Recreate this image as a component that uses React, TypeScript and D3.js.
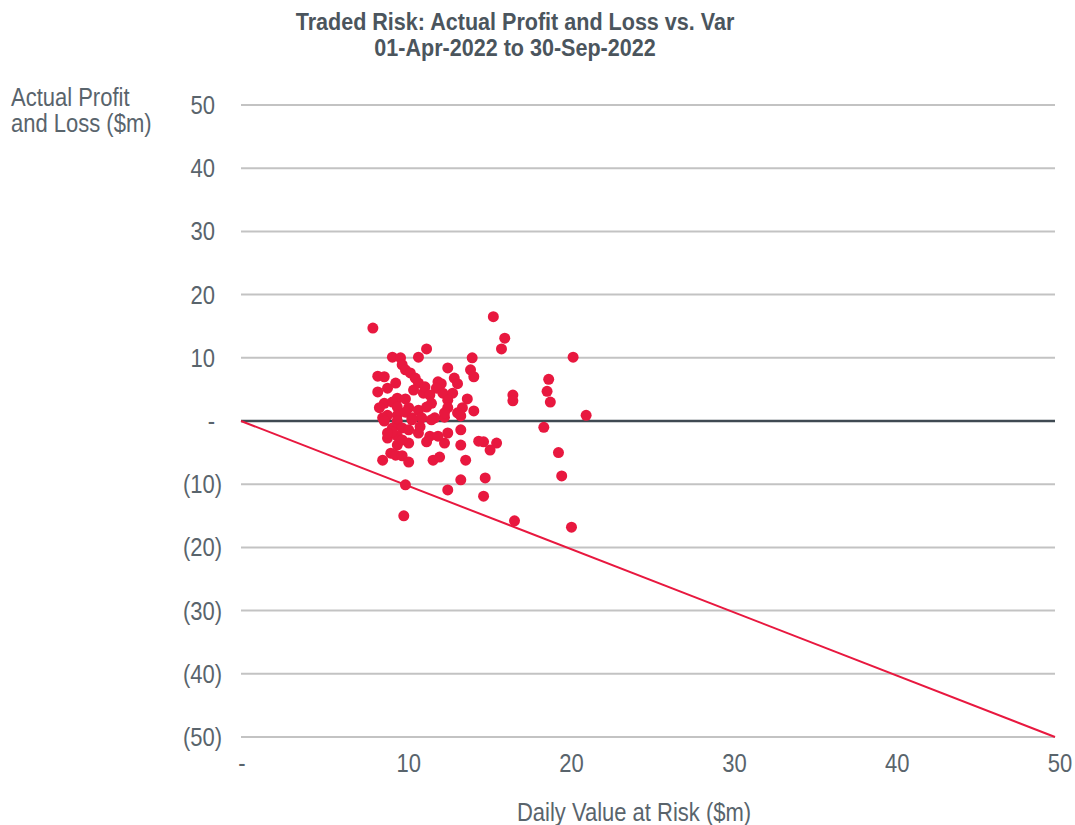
import React from "react";
import * as d3 from "d3";

const titleLines = ["Traded Risk: Actual Profit and Loss vs. Var", "01-Apr-2022 to 30-Sep-2022"];
const yAxisTitle = ["Actual Profit", "and Loss ($m)"];
const xAxisTitle = "Daily Value at Risk ($m)";
const yTicks = [50, 40, 30, 20, 10, 0, -10, -20, -30, -40, -50];
const xTicks = [0, 10, 20, 30, 40, 50];

// Daily VaR ($m)
const varValues = [
  8.1, 15.5, 16.2, 16.0, 20.4, 18.9, 18.8, 19.0, 16.7, 16.7,
  21.2, 18.6, 19.5, 19.7, 20.3, 16.8, 14.9, 15.7, 15.3, 15.0,
  14.9, 11.4, 10.9, 9.3, 9.8, 14.2, 12.7, 14.1, 14.3, 9.9,
  10.1, 10.4, 10.7, 10.9, 8.4, 8.8, 13.1, 13.3, 12.1, 12.3,
  12.0, 9.5, 9.0, 8.4, 10.6, 11.2, 11.3, 11.6, 12.4, 13.0,
  13.9, 9.6, 10.1, 8.8, 9.3, 11.7, 12.7, 8.5, 9.6, 10.3,
  10.9, 11.4, 12.7, 13.6, 14.3, 9.0, 9.6, 10.1, 13.3, 8.7,
  10.5, 11.1, 11.9, 12.5, 13.5, 8.8, 9.6, 10.5, 9.3, 9.9,
  10.3, 10.9, 11.0, 11.6, 9.6, 9.0, 10.3, 9.6, 9.2, 9.5,
  9.9, 8.7, 10.3, 11.8, 12.2, 12.1, 12.7, 12.5, 13.5, 13.5,
  14.6, 13.8, 13.5, 12.7, 10.1, 10.0, 11.7, 12.5, 11.4, 9.3,
  9.0, 9.9,
];

// Actual profit and loss ($m)
const pnlValues = [
  14.7, 16.5, 13.1, 11.4, 10.1, 6.6, 4.7, 3.0, 4.1, 3.2,
  0.9, -1.0, -5.0, -8.7, -16.8, -15.8, -3.3, -3.5, -4.6, -9.0,
  -11.9, 11.4, 10.1, 10.1, 10.0, 10.0, 8.4, 8.1, 7.0, 8.9,
  8.1, 7.6, 6.8, 6.0, 7.1, 7.0, 6.8, 5.9, 6.2, 5.9,
  5.2, 6.0, 5.2, 4.6, 4.9, 4.4, 5.4, 4.1, 4.4, 4.4,
  3.5, 3.6, 3.5, 2.8, 3.0, 2.8, 3.3, 2.1, 2.2, 2.1,
  1.7, 2.2, 2.1, 2.1, 1.6, 0.9, 0.9, 1.4, 1.3, 0.5,
  0.5, 0.5, 0.5, 0.6, 0.8, 0.0, 0.0, 0.2, -1.1, -1.1,
  -1.4, -1.9, -0.9, -2.4, -2.4, -2.7, -3.5, -3.8, -5.1, -5.4,
  -5.5, -6.2, -6.5, -6.2, -5.7, -2.4, -1.9, -3.5, -1.4, -3.8,
  -3.2, -6.2, -9.3, -10.9, -10.1, -15.0, 0.2, 1.3, -3.3, -1.7,
  -1.9, -3.0,
];

const refLine = [0, 50];

const RED = "#E8183F";
const GRID = "#C3C3C3";
const ZERO = "#3F4A52";
const TEXT = "#59646C";
const FONT = "'Liberation Sans', Arial, sans-serif";
const SQUEEZE = 0.88;

type NTextProps = {
  x: number;
  y: number;
  size: number;
  anchor?: "start" | "middle" | "end";
  weight?: string;
  fill?: string;
  children: React.ReactNode;
};

function NText({ x, y, size, anchor = "start", weight = "normal", fill = TEXT, children }: NTextProps) {
  return (
    <g transform={`translate(${x},${y}) scale(${SQUEEZE},1)`}>
      <text x={0} y={0} fontSize={size} textAnchor={anchor} fontWeight={weight} fill={fill}>
        {children}
      </text>
    </g>
  );
}

const fmtY = (v: number) => (v === 0 ? "-" : v < 0 ? `(${Math.abs(v)})` : `${v}`);
const fmtX = (v: number) => (v === 0 ? "-" : `${v}`);

export default function App() {
  const width = 1075;
  const height = 825;
  const x = d3.scaleLinear().domain([0, 50]).range([241, 1055]);
  const y = d3.scaleLinear().domain([-50, 50]).range([737, 105]);
  const points = varValues.map((v, i) => ({ v, p: pnlValues[i] }));
  const line = d3
    .line<number>()
    .x((d) => x(d))
    .y((d) => y(-d));

  return (
    <svg
      width={width}
      height={height}
      style={{ position: "absolute", left: 0, top: 0, background: "#fff" }}
      fontFamily={FONT}
    >
      {titleLines.map((t, i) => (
        <NText key={t} x={515} y={30 + i * 26} size={24.5} anchor="middle" weight="bold" fill="#4B555D">
          {t}
        </NText>
      ))}
      {yAxisTitle.map((t, i) => (
        <NText key={t} x={11} y={106 + i * 26} size={25}>
          {t}
        </NText>
      ))}
      {yTicks.map((t) => (
        <line
          key={`g${t}`}
          x1={x(0)}
          x2={x(50)}
          y1={y(t)}
          y2={y(t)}
          stroke={t === 0 ? ZERO : GRID}
          strokeWidth={t === 0 ? 2.5 : 2}
        />
      ))}
      {yTicks.map((t) => (
        <NText key={`l${t}`} x={t < 0 ? 222 : 215} y={y(t) + 9} size={25} anchor="end">
          {fmtY(t)}
        </NText>
      ))}
      {xTicks.map((t) => (
        <NText key={`x${t}`} x={x(t) + (t === 0 ? 1 : 5)} y={772} size={25} anchor="middle">
          {fmtX(t)}
        </NText>
      ))}
      <NText x={634} y={821} size={25} anchor="middle">
        {xAxisTitle}
      </NText>
      <path d={line(refLine) || ""} fill="none" stroke={RED} strokeWidth={2} />
      {points.map((d, i) => (
        <circle key={i} cx={x(d.v)} cy={y(d.p)} r={5.5} fill={RED} />
      ))}
    </svg>
  );
}
